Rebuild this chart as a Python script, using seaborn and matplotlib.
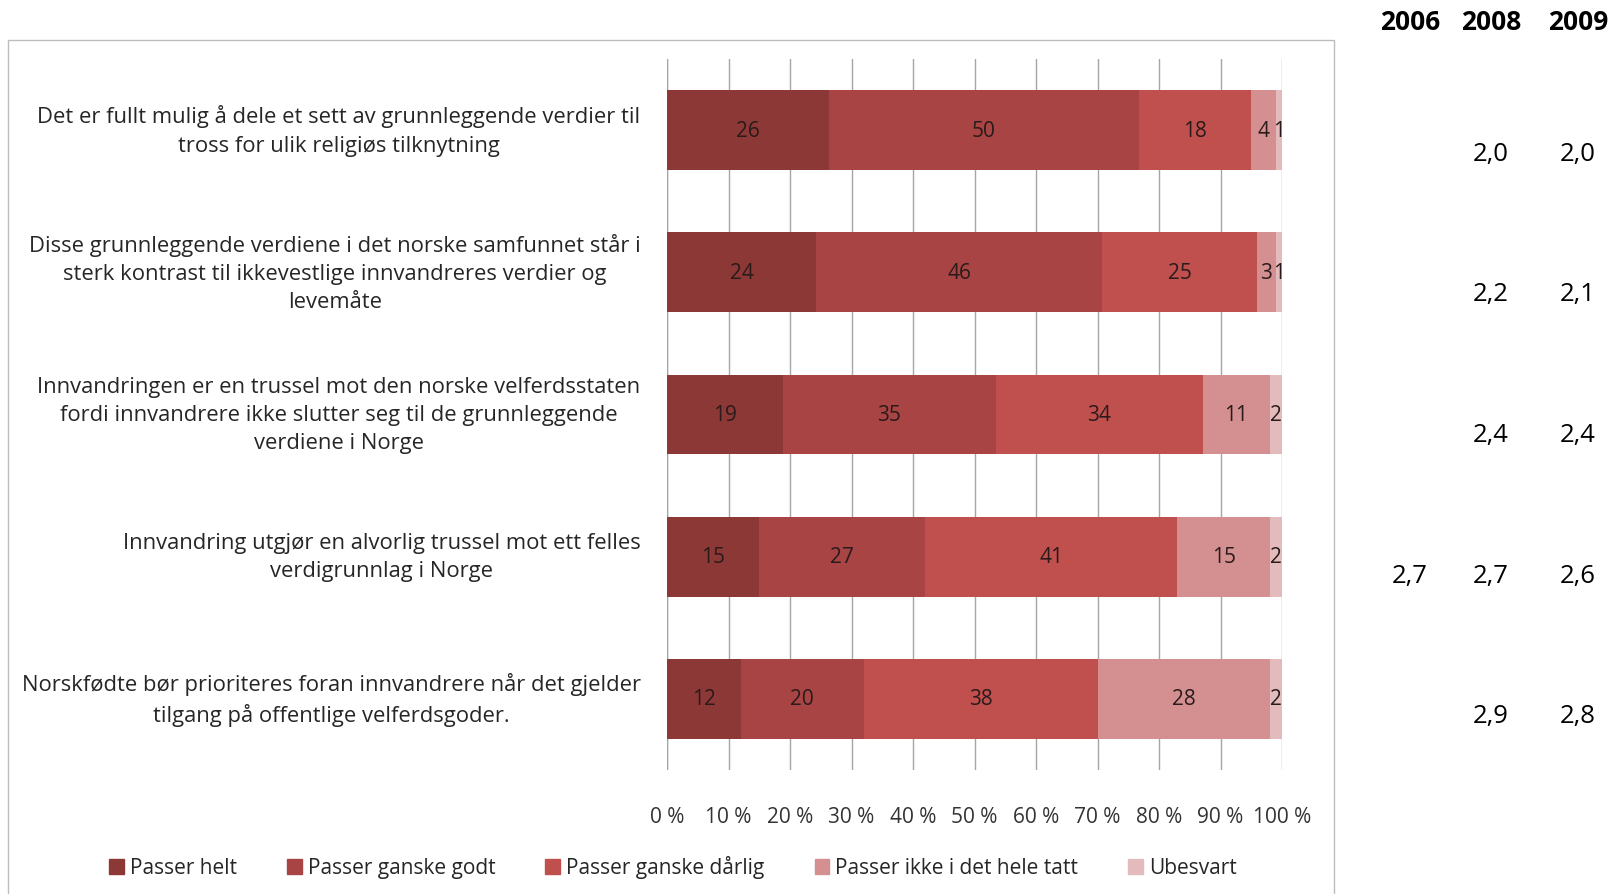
import matplotlib
matplotlib.use("Agg")
import matplotlib.pyplot as plt
import matplotlib.patches as mpatches
import seaborn as sns
import pandas as pd
import numpy as np

statements = [
    "Det er fullt mulig å dele et sett av grunnleggende verdier til\ntross for ulik religiøs tilknytning",
    "Disse grunnleggende verdiene i det norske samfunnet står i\nsterk kontrast til ikkevestlige innvandreres verdier og\nlevemåte",
    "Innvandringen er en trussel mot den norske velferdsstaten\nfordi innvandrere ikke slutter seg til de grunnleggende\nverdiene i Norge",
    "Innvandring utgjør en alvorlig trussel mot ett felles\nverdigrunnlag i Norge",
    "Norskfødte bør prioriteres foran innvandrere når det gjelder\ntilgang på offentlige velferdsgoder.",
]
series_names = ["Passer helt", "Passer ganske godt", "Passer ganske dårlig",
                "Passer ikke i det hele tatt", "Ubesvart"]
passer_helt = [26, 24, 19, 15, 12]
passer_ganske_godt = [50, 46, 35, 27, 20]
passer_ganske_darlig = [18, 25, 34, 41, 38]
passer_ikke = [4, 3, 11, 15, 28]
ubesvart = [1, 1, 2, 2, 2]
tick_labels = ["0 %", "10 %", "20 %", "30 %", "40 %", "50 %", "60 %", "70 %", "80 %", "90 %", "100 %"]

years = ["2006", "2008", "2009"]
mean_2006 = [None, None, None, "2,7", None]
mean_2008 = ["2,0", "2,2", "2,4", "2,7", "2,9"]
mean_2009 = ["2,0", "2,1", "2,4", "2,6", "2,8"]

colors = ["#8C3836", "#A84443", "#C0504D", "#D48F90", "#E4BBBC"]

FONT = "Open Sans"
plt.rcParams["font.family"] = [FONT, "DejaVu Sans"]

W, H = 1612, 895
fig = plt.figure(figsize=(W / 100, H / 100), dpi=100)
fig.patch.set_facecolor("white")

# outer chart frame
fig.patches.append(mpatches.Rectangle((8 / W, -0.01), (1334 - 8) / W, 1 - 41 / H + 0.01,
                                      transform=fig.transFigure, fill=False,
                                      edgecolor="#BDBDBD", linewidth=1.0))

ax = fig.add_axes([667 / W, 1 - 771 / H, (1282 - 667) / W, (771 - 60) / H])

data = np.array([passer_helt, passer_ganske_godt, passer_ganske_darlig, passer_ikke, ubesvart], dtype=float)
shares = data / data.sum(axis=0) * 100
cum = np.cumsum(shares, axis=0)

ids = [f"s{i}" for i in range(len(statements))]
for k in range(len(series_names) - 1, -1, -1):
    df = pd.DataFrame({"pct": cum[k], "stmt": ids})
    sns.barplot(data=df, x="pct", y="stmt", orient="h", color=colors[k],
                width=0.56, ax=ax, saturation=1, zorder=3, label=series_names[k])

# segment value labels
for k in range(len(series_names)):
    for i in range(len(statements)):
        start = cum[k - 1][i] if k > 0 else 0
        mid = (start + cum[k][i]) / 2
        ax.text(mid, i, f"{int(data[k][i])}", ha="center", va="center",
                fontsize=15, color="#2a1a1a", zorder=5)

ax.set_xlim(0, 100)
ax.set_ylim(len(statements) - 0.5, -0.5)
ax.set_xticks(np.arange(0, 101, 10))
ax.set_xticklabels(tick_labels, fontsize=15, color="#333333")
ax.set_yticks(range(len(statements)))
ax.set_yticklabels([])
ax.tick_params(axis="both", length=0, pad=26)
ax.set_xlabel("")
ax.set_ylabel("")
for s in ax.spines.values():
    s.set_visible(False)
ax.grid(axis="x", color="#A6A6A6", linewidth=1.0, zorder=0)
ax.set_axisbelow(True)
ax.axvline(0, color="#A6A6A6", linewidth=1.0, zorder=1)
if ax.get_legend() is not None:
    ax.get_legend().remove()

# statement labels, right aligned block with centred lines
for i, txt in enumerate(statements):
    ax.text(-4.3, i, txt, ha="right", va="center", multialignment="center",
            fontsize=15.8, color="#262626", linespacing=1.45,
            transform=ax.transData)

# legend
handles = [mpatches.Patch(color=c, label=n) for c, n in zip(colors, series_names)]
fig.legend(handles=handles, loc="center", bbox_to_anchor=(673 / W, 1 - 868 / H),
           ncol=5, frameon=False, fontsize=15, handlelength=0.7, handleheight=0.7,
           handletextpad=0.3, columnspacing=2.4, labelcolor="#262626")

# yearly mean columns
year_x = [1410, 1491, 1578]
row_y = [155, 295, 436, 576, 716]
for yx, yr, vals in zip(year_x, years, [mean_2006, mean_2008, mean_2009]):
    fig.text(yx / W, 1 - 22 / H, yr, ha="center", va="center", fontsize=19,
             fontweight="bold", color="black")
    for ry, v in zip(row_y, vals):
        if v is not None:
            fig.text(yx / W, 1 - ry / H, v, ha="center", va="center",
                     fontsize=18.5, color="black")

fig.savefig("out.png", dpi=100)
